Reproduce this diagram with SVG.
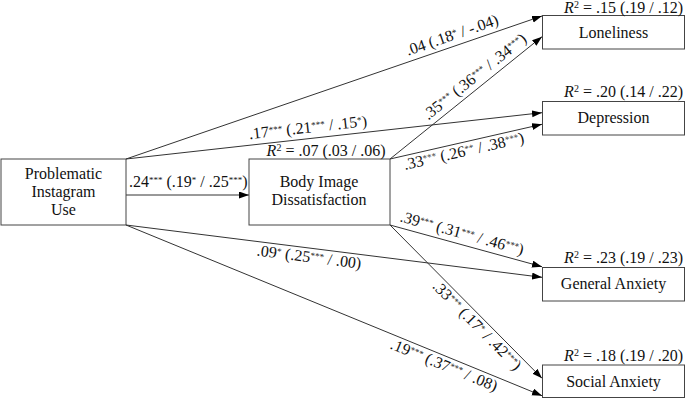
<svg xmlns="http://www.w3.org/2000/svg" width="685" height="400" viewBox="0 0 685 400" font-family="'Liberation Serif', 'DejaVu Serif', serif">
<style>
text{font-family:'Liberation Serif','DejaVu Serif',serif;font-size:16px;fill:#111}
.n{text-anchor:middle}
.r{text-anchor:end}
.m{text-anchor:middle}
.s{font-size:9px}
.box{fill:#fff;stroke:#444;stroke-width:1}
.ln{fill:none;stroke:#333;stroke-width:1;marker-end:url(#ah)}
</style>
<defs>
<marker id="ah" markerUnits="userSpaceOnUse" markerWidth="11" markerHeight="8" refX="10" refY="3.5" orient="auto">
<path d="M0,0 L10,3.5 L0,7 z" fill="#000"/>
</marker>
</defs>
<g id="connectors">
<line class="ln" x1="126" y1="159" x2="542" y2="16"/>
<line class="ln" x1="126" y1="159" x2="542" y2="112.7"/>
<line class="ln" x1="126" y1="195" x2="249" y2="195"/>
<line class="ln" x1="126" y1="225" x2="542" y2="277.3"/>
<line class="ln" x1="126" y1="225" x2="542" y2="395.7"/>
<line class="ln" x1="390" y1="159" x2="542" y2="36.7"/>
<line class="ln" x1="390" y1="159" x2="542" y2="124.3"/>
<line class="ln" x1="390" y1="225" x2="542" y2="266.7"/>
<line class="ln" x1="390" y1="225" x2="542" y2="378.3"/>
<text transform="translate(455.7,45.7) rotate(-18.97)" class="m" y="-6">.04 (.18<tspan class="s" dy="-4">*</tspan><tspan dy="4"> / -.04)</tspan></text>
<text transform="translate(309.2,138.6) rotate(-6.35)" class="m" y="-6">.17<tspan class="s" dy="-4">***</tspan><tspan dy="4"> (.21</tspan><tspan class="s" dy="-4">***</tspan><tspan dy="4"> / .15</tspan><tspan class="s" dy="-4">*</tspan><tspan dy="4">)</tspan></text>
<text x="129" y="187">.24<tspan class="s" dy="-4">***</tspan><tspan dy="4"> (.19</tspan><tspan class="s" dy="-4">*</tspan><tspan dy="4"> / .25</tspan><tspan class="s" dy="-4">***</tspan><tspan dy="4">)</tspan></text>
<text transform="translate(310.2,248.2) rotate(7.17)" class="m" y="14">.09<tspan class="s" dy="-4">*</tspan><tspan dy="4"> (.25</tspan><tspan class="s" dy="-4">***</tspan><tspan dy="4"> / .00)</tspan></text>
<text transform="translate(447.4,356.9) rotate(22.31)" class="m" y="14">.19<tspan class="s" dy="-4">***</tspan><tspan dy="4"> (.37</tspan><tspan class="s" dy="-4">***</tspan><tspan dy="4"> / .08)</tspan></text>
<text transform="translate(481.6,85.3) rotate(-38.82)" class="m" y="-6">.35<tspan class="s" dy="-4">***</tspan><tspan dy="4"> (.36</tspan><tspan class="s" dy="-4">***</tspan><tspan dy="4"> / .34</tspan><tspan class="s" dy="-4">***</tspan><tspan dy="4">)</tspan></text>
<text transform="translate(461.9,142.6) rotate(-12.86)" class="m" y="14">.33<tspan class="s" dy="-4">***</tspan><tspan dy="4"> (.26</tspan><tspan class="s" dy="-4">**</tspan><tspan dy="4"> / .38</tspan><tspan class="s" dy="-4">***</tspan><tspan dy="4">)</tspan></text>
<text transform="translate(459.1,243.9) rotate(15.34)" class="m" y="-6">.39<tspan class="s" dy="-4">***</tspan><tspan dy="4"> (.31</tspan><tspan class="s" dy="-4">***</tspan><tspan dy="4"> / .46</tspan><tspan class="s" dy="-4">***</tspan><tspan dy="4">)</tspan></text>
<text transform="translate(483.5,319.3) rotate(45.24)" class="m" y="14">.33<tspan class="s" dy="-4">***</tspan><tspan dy="4"> (.17</tspan><tspan class="s" dy="-4">*</tspan><tspan dy="4"> / .42</tspan><tspan class="s" dy="-4">***</tspan><tspan dy="4">)</tspan></text>
</g>
<g id="piu">
<rect class="box" x="1" y="159" width="125" height="66"/>
<text class="n" x="63.5" y="179">Problematic</text>
<text class="n" x="63.5" y="197">Instagram</text>
<text class="n" x="63.5" y="215">Use</text>
</g>
<g id="body">
<rect class="box" x="249" y="159" width="141" height="66"/>
<text class="r" x="385.5" y="156"><tspan font-style="italic">R</tspan><tspan font-size="10" dy="-5">2</tspan><tspan dy="5"> = .07 (.03 / .06)</tspan></text>
<text class="n" x="319" y="187">Body Image</text>
<text class="n" x="319" y="205">Dissatisfaction</text>
</g>
<g id="loneliness">
<rect class="box" x="542.5" y="15.5" width="142" height="33.5"/>
<text class="r" x="683" y="13"><tspan font-style="italic">R</tspan><tspan font-size="10" dy="-5">2</tspan><tspan dy="5"> = .15 (.19 / .12)</tspan></text>
<text class="n" x="613.5" y="37.5">Loneliness</text>
</g>
<g id="depression">
<rect class="box" x="542.5" y="101.5" width="142" height="33.5"/>
<text class="r" x="683" y="97"><tspan font-style="italic">R</tspan><tspan font-size="10" dy="-5">2</tspan><tspan dy="5"> = .20 (.14 / .22)</tspan></text>
<text class="n" x="613.5" y="123">Depression</text>
</g>
<g id="general-anxiety">
<rect class="box" x="542.5" y="267.5" width="142" height="33.5"/>
<text class="r" x="683" y="263"><tspan font-style="italic">R</tspan><tspan font-size="10" dy="-5">2</tspan><tspan dy="5"> = .23 (.19 / .23)</tspan></text>
<text class="n" x="613.5" y="289">General Anxiety</text>
</g>
<g id="social-anxiety">
<rect class="box" x="542.5" y="365" width="142" height="32.5"/>
<text class="r" x="683" y="361"><tspan font-style="italic">R</tspan><tspan font-size="10" dy="-5">2</tspan><tspan dy="5"> = .18 (.19 / .20)</tspan></text>
<text class="n" x="613.5" y="386.5">Social Anxiety</text>
</g>
</svg>
